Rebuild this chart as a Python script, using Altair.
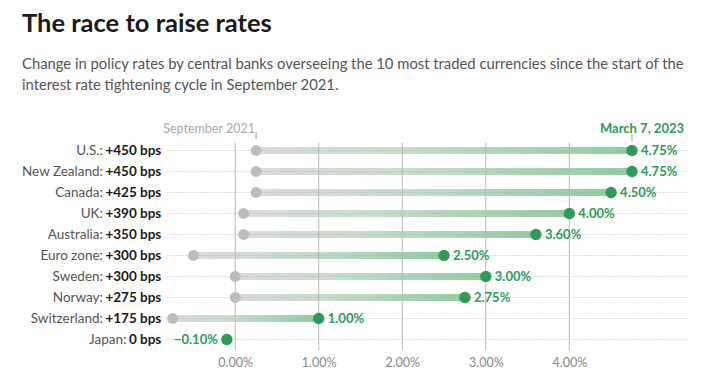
import altair as alt
import pandas as pd

countries = ["U.S.", "New Zealand", "Canada", "UK", "Australia", "Euro zone",
             "Sweden", "Norway", "Switzerland", "Japan"]
change_labels = ["+450 bps", "+450 bps", "+425 bps", "+390 bps", "+350 bps",
                 "+300 bps", "+300 bps", "+275 bps", "+175 bps", "0 bps"]
start_rates = [0.25, 0.25, 0.25, 0.10, 0.10, -0.50, 0.00, 0.00, -0.75, -0.10]
end_rates = [4.75, 4.75, 4.50, 4.00, 3.60, 2.50, 3.00, 2.75, 1.00, -0.10]
end_labels = ["4.75%", "4.75%", "4.50%", "4.00%", "3.60%", "2.50%", "3.00%",
              "2.75%", "1.00%", "\u22120.10%"]
tick_values = [0, 1, 2, 3, 4]

GREEN = "#2e9c57"
FONT = "Lato"

df = pd.DataFrame({
    "country": countries,
    "change": change_labels,
    "start": start_rates,
    "end": end_rates,
    "endlab": end_labels,
})
df["name"] = df["country"] + ":"

x_scale = alt.Scale(domain=[-2.6, 5.6], nice=False, zero=False)
y_enc = alt.Y("country:N", sort=countries, axis=None,
              scale=alt.Scale(paddingInner=0, paddingOuter=0))

base = alt.Chart(df)

grid = alt.Chart(pd.DataFrame({"t": tick_values})).mark_rule(
    color="#b8b8b8", strokeWidth=1
).encode(
    x=alt.X("t:Q", scale=x_scale,
            axis=alt.Axis(values=tick_values, title=None,
                          grid=False, domain=False, ticks=False,
                          labelFont=FONT, labelFontSize=12.5,
                          labelColor="#888888", labelPadding=6,
                          labelExpr="format(datum.value/100, '.2%')")),
    y=alt.value(3), y2=alt.value(210),
)

rowline = base.mark_rule(color="#bdbdbd", strokeWidth=1, strokeDash=[1, 2]).encode(
    x=alt.datum(-0.81), x2=alt.datum(5.41), y=y_enc,
)

gradient = alt.Gradient(
    gradient="linear",
    x1=0, x2=1, y1=0, y2=0,
    stops=[alt.GradientStop(color="#dadada", offset=0),
           alt.GradientStop(color="#c9dccd", offset=0.4),
           alt.GradientStop(color="#92cba1", offset=1)],
)

bars = base.transform_filter("datum.end > datum.start").mark_bar(
    color=gradient, height=7
).encode(
    x=alt.X("start:Q", scale=x_scale), x2="end:Q", y=y_enc,
)

rowline2 = base.transform_filter("datum.end > datum.start").mark_rule(
    color="#7fae8c", opacity=0.5, strokeWidth=1, strokeDash=[1, 2]
).encode(x=alt.X("start:Q", scale=x_scale), x2="end:Q", y=y_enc)

start_dots = base.transform_filter("datum.end > datum.start").mark_circle(
    color="#bdbdbd", size=120, opacity=1
).encode(x=alt.X("start:Q", scale=x_scale), y=y_enc)

end_dots = base.mark_circle(color=GREEN, size=130, opacity=1).encode(
    x=alt.X("end:Q", scale=x_scale), y=y_enc
)

end_text = base.transform_filter("datum.end > datum.start").mark_text(
    align="left", dx=9, font=FONT, fontSize=13, fontWeight="bold", color=GREEN
).encode(x=alt.X("end:Q", scale=x_scale), y=y_enc, text="endlab:N")

neg_text = base.transform_filter("datum.end <= datum.start").mark_text(
    align="right", dx=-9, font=FONT, fontSize=13, fontWeight="bold", color=GREEN
).encode(x=alt.X("end:Q", scale=x_scale), y=y_enc, text="endlab:N")

bold_lab = base.mark_text(
    align="right", font=FONT, fontSize=13.5, fontWeight="bold", color="#1a1a1a"
).encode(x=alt.datum(-0.885), y=y_enc, text="change:N")

norm_lab = base.transform_calculate(
    lx="-0.885 - (length(datum.change) * 7.8 - 7.6 + 3.5) / 83.5"
).mark_text(
    align="right", font=FONT, fontSize=13.5, color="#555555"
).encode(x=alt.X("lx:Q", scale=x_scale), y=y_enc, text="name:N")

# header annotations
us = base.transform_filter("datum.country == 'U.S.'")
sep_lab = us.mark_text(
    align="center", font=FONT, fontSize=12.5, color="#aaaaaa", dx=-47
).encode(x=alt.X("start:Q", scale=x_scale), y=alt.value(-11),
         text=alt.value("September 2021"))
sep_tick = us.mark_rule(color="#999999").encode(
    x=alt.X("start:Q", scale=x_scale), y=alt.value(-8), y2=alt.value(-1))
mar_lab = us.mark_text(
    align="center", font=FONT, fontSize=13, fontWeight="bold", color=GREEN, dx=10
).encode(x=alt.X("end:Q", scale=x_scale), y=alt.value(-11),
         text=alt.value("March 7, 2023"))
mar_tick = us.mark_rule(color="#999999").encode(
    x=alt.X("end:Q", scale=x_scale), y=alt.value(-6), y2=alt.value(1))

chart = alt.layer(
    rowline, bars, rowline2, grid, start_dots, end_dots, end_text, neg_text,
    bold_lab, norm_lab, sep_lab, sep_tick, mar_lab, mar_tick
).properties(
    width=685, height=210,
    title=alt.TitleParams(
        "The race to raise rates",
        subtitle=["Change in policy rates by central banks overseeing the 10 most traded currencies since the start of the",
                  "interest rate tightening cycle in September 2021."],
        anchor="start", dx=4, font=FONT, fontSize=25.5, fontWeight="bold",
        color="#1a1a1a", subtitleFont=FONT, subtitleFontSize=14.8,
        subtitleColor="#555555", subtitlePadding=19, subtitleLineHeight=21.5,
        offset=30,
    ),
    padding={"left": 10, "top": 4, "right": 0, "bottom": 0},
).configure_view(stroke=None)

chart.save("out.html", embed_options={"renderer": "svg", "actions": False})
